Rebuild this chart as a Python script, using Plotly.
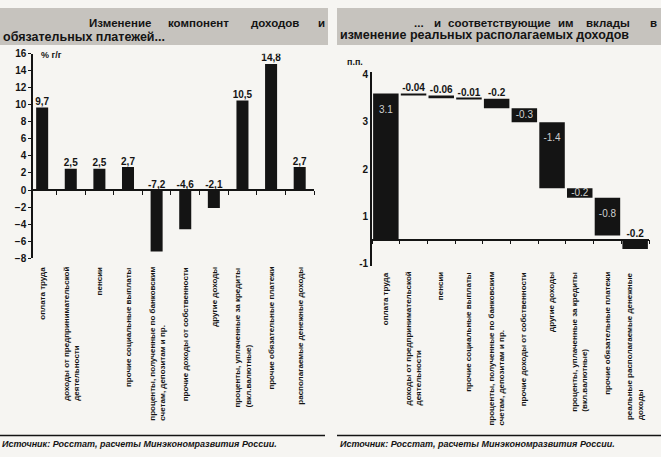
import plotly.graph_objects as go

W, H = 661, 457

# ---- left panel: growth of income components, % y/y ----
cats_left = [
    "оплата труда",
    "доходы от предпринимательской<br>деятельности",
    "пенсии",
    "прочие социальные выплаты",
    "проценты, полученные по банковским<br>счетам, депозитам и пр.",
    "прочие доходы от собственности",
    "другие доходы",
    "проценты, уплаченные за кредиты<br>(вкл.валютные)",
    "прочие обязательные платежи",
    "располагаемые денежные доходы",
]
growth = [9.7, 2.5, 2.5, 2.7, -7.2, -4.6, -2.1, 10.5, 14.8, 2.7]
left_ticks = [16, 14, 12, 10, 8, 6, 4, 2, 0, -2, -4, -6, -8]

# ---- right panel: contributions to real disposable income, p.p. ----
cats_right = [
    "оплата труда",
    "доходы от предпринимательской<br>деятельности",
    "пенсии",
    "прочие социальные выплаты",
    "проценты, полученные по банковским<br>счетам, депозитам и пр.",
    "прочие доходы от собственности",
    "другие доходы",
    "проценты, уплаченные за кредиты<br>(вкл.валютные)",
    "прочие обязательные платежи",
    "реальные располагаемые денежные<br>доходы",
]
contrib = [3.1, -0.04, -0.06, -0.01, -0.2, -0.3, -1.4, -0.2, -0.8, -0.2]
contrib_measure = ["relative"] * 9 + ["absolute"]
right_tick_text = ["4", "3", "2", "1", "-1"]
right_tick_pos = [3.5, 2.5, 1.5, 0.5, -0.5]

# label placement style for the waterfall values
inside_label = [True, False, False, False, False, True, True, True, True, False]

FONT = "Liberation Sans"
INK = "#141414"


def fx(px):
    return px / W


def fy(py):
    return 1 - py / H


# plot-area geometry (pixels)
L_X0, L_X1, L_Y0, L_Y1 = 33, 314, 49, 259
R_X0, R_X1, R_Y0, R_Y1 = 372, 649, 68.2, 266.6
L_RANGE = [-8, 16]
R_RANGE = [-0.55, 3.55]

fig = go.Figure()

# left bars
fig.add_trace(go.Bar(
    x=cats_left, y=growth, width=0.42,
    marker=dict(color=INK, line=dict(width=0)),
    xaxis="x", yaxis="y", hoverinfo="skip",
))
fig.add_trace(go.Scatter(
    x=cats_left, y=[max(v, 0) for v in growth],
    mode="text",
    text=[f"{v:.1f}".replace(".", ",") for v in growth],
    textposition="top center",
    textfont=dict(family=FONT, size=10, color=INK, weight="bold"),
    xaxis="x", yaxis="y", hoverinfo="skip",
))

# right waterfall
fig.add_trace(go.Waterfall(
    x=cats_right, y=contrib, measure=contrib_measure, width=0.92,
    increasing=dict(marker=dict(color=INK)),
    decreasing=dict(marker=dict(color=INK)),
    totals=dict(marker=dict(color=INK)),
    connector=dict(visible=False),
    textinfo="none",
    xaxis="x2", yaxis="y2", hoverinfo="skip",
))

# value labels for the waterfall, placed from the running level
level = 0.0
tops, mids_in = [], []
for v, m in zip(contrib, contrib_measure):
    if m == "absolute":
        lo, hi = min(0, v), max(0, v)
        level = v
    else:
        lo, hi = min(level, level + v), max(level, level + v)
        level += v
    tops.append(hi)
    mids_in.append(hi - min((hi - lo) / 2, 0.35))

out_x = [c for c, f in zip(cats_right, inside_label) if not f]
out_y = [t for t, f in zip(tops, inside_label) if not f]
out_t = [f"{v:g}" for v, f in zip(contrib, inside_label) if not f]
in_x = [c for c, f in zip(cats_right, inside_label) if f]
in_y = [t for t, f in zip(mids_in, inside_label) if f]
in_t = [f"{v:g}" for v, f in zip(contrib, inside_label) if f]

fig.add_trace(go.Scatter(
    x=out_x, y=out_y, mode="text", text=out_t, textposition="top center",
    textfont=dict(family=FONT, size=10, color=INK, weight="bold"),
    xaxis="x2", yaxis="y2", hoverinfo="skip",
))
fig.add_trace(go.Scatter(
    x=in_x, y=in_y, mode="text", text=in_t, textposition="middle center",
    textfont=dict(family=FONT, size=10, color="#d0d0d0"),
    xaxis="x2", yaxis="y2", hoverinfo="skip",
))


def zero_pos(rng, y0, y1):
    frac = (0 - rng[0]) / (rng[1] - rng[0])
    return fy(y1) + frac * (fy(y0) - fy(y1))


axis_common = dict(
    type="category", showgrid=False, zeroline=False, showline=True,
    linecolor=INK, linewidth=1.5, ticks="outside", tickson="boundaries",
    ticklen=4, tickcolor=INK, tickwidth=1, showticklabels=False,
    anchor="free", fixedrange=True,
)

fig.update_layout(
    width=W, height=H,
    margin=dict(l=0, r=0, t=0, b=0),
    paper_bgcolor="#f6f5f2",
    plot_bgcolor="rgba(0,0,0,0)",
    showlegend=False,
    font=dict(family=FONT, color=INK),
    xaxis=dict(axis_common, domain=[fx(L_X0), fx(L_X1)], range=[-0.32, 9.5],
               position=zero_pos(L_RANGE, L_Y0, L_Y1)),
    yaxis=dict(domain=[fy(L_Y1), fy(L_Y0)], range=L_RANGE, anchor="x",
               tickvals=left_ticks, showgrid=False, zeroline=False,
               showline=True, linecolor=INK, linewidth=1.5,
               ticks="outside", ticklen=3, tickcolor=INK,
               tickfont=dict(family=FONT, size=10, color=INK, weight="bold"),
               fixedrange=True),
    xaxis2=dict(axis_common, domain=[fx(R_X0), fx(R_X1)], range=[-0.5, 9.5],
                position=zero_pos(R_RANGE, R_Y0, R_Y1)),
    yaxis2=dict(domain=[fy(R_Y1), fy(R_Y0)], range=R_RANGE, anchor="x2",
                tickvals=right_tick_pos, ticktext=right_tick_text,
                showgrid=False, zeroline=False, showline=True,
                linecolor=INK, linewidth=1.8, ticks="",
                tickfont=dict(family=FONT, size=10, color=INK, weight="bold"),
                fixedrange=True),
)

ann = []

# rotated category labels under each panel
cat_font = dict(family=FONT, size=8, color=INK, weight="bold")
for c in cats_left:
    ann.append(dict(x=c, xref="x", y=fy(266), yref="paper", text=c,
                    textangle=-90, xanchor="center", yanchor="top",
                    align="left", showarrow=False, font=cat_font))
for c in cats_right:
    ann.append(dict(x=c, xref="x2", y=fy(271), yref="paper", text=c,
                    textangle=-90, xanchor="center", yanchor="top",
                    align="left", showarrow=False, font=cat_font))

# unit labels
ann.append(dict(x=fx(39), y=fy(50), xref="paper", yref="paper", text="% г/г",
                xanchor="left", yanchor="middle", showarrow=False,
                font=dict(family=FONT, size=9, color=INK, weight="bold")))
ann.append(dict(x=fx(355), y=fy(57), xref="paper", yref="paper", text="п.п.",
                xanchor="center", yanchor="middle", showarrow=False,
                font=dict(family=FONT, size=9, color=INK, weight="bold")))

# panel headings (justified first line, word by word)
title_font = dict(family=FONT, size=11.5, color=INK, weight="bold")
title_font2 = dict(family=FONT, size=12.5, color=INK, weight="bold")
left_line1 = [("Изменение", 87, "left"), ("компонент", 166, "left"),
              ("доходов", 249, "left"), ("и", 327, "right")]
right_line1 = [("...", 412, "left"), ("и", 432, "left"),
               ("соответствующие", 446, "left"), ("им", 556, "left"),
               ("вклады", 584, "left"), ("в", 659, "right")]
for word, px, anchor in left_line1 + right_line1:
    ann.append(dict(x=fx(px), y=fy(17), xref="paper", yref="paper", text=word,
                    xanchor=anchor, yanchor="middle", showarrow=False,
                    font=title_font))
ann.append(dict(x=fx(1), y=fy(32), xref="paper", yref="paper",
                text="обязательных платежей...", xanchor="left",
                yanchor="middle", showarrow=False, font=title_font2))
ann.append(dict(x=fx(338), y=fy(30), xref="paper", yref="paper",
                text="изменение реальных располагаемых доходов",
                xanchor="left", yanchor="middle", showarrow=False,
                font=title_font2))

# source notes
src = "Источник: Росстат, расчеты Минэкономразвития России."
src_font = dict(family=FONT, size=9, color=INK, weight="bold", style="italic")
ann.append(dict(x=fx(0), y=fy(450), xref="paper", yref="paper", text=src,
                xanchor="left", yanchor="middle", showarrow=False, font=src_font))
ann.append(dict(x=fx(338), y=fy(450), xref="paper", yref="paper", text=src,
                xanchor="left", yanchor="middle", showarrow=False, font=src_font))

fig.update_layout(annotations=ann)

shapes = [
    # grey heading bands
    dict(type="rect", xref="paper", yref="paper", x0=fx(0), x1=fx(328),
         y0=fy(40), y1=fy(2), fillcolor="#c6c3be", line=dict(width=0),
         layer="below"),
    dict(type="rect", xref="paper", yref="paper", x0=fx(337), x1=fx(661),
         y0=fy(40), y1=fy(2), fillcolor="#c6c3be", line=dict(width=0),
         layer="below"),
    # rules above the source notes
    dict(type="line", xref="paper", yref="paper", x0=fx(0), x1=fx(325),
         y0=fy(441), y1=fy(441), line=dict(color=INK, width=1.5)),
    dict(type="line", xref="paper", yref="paper", x0=fx(337), x1=fx(661),
         y0=fy(441), y1=fy(441), line=dict(color=INK, width=1.5)),
]
fig.update_layout(shapes=shapes)

fig.write_html("out.html", config={"displayModeBar": False})
